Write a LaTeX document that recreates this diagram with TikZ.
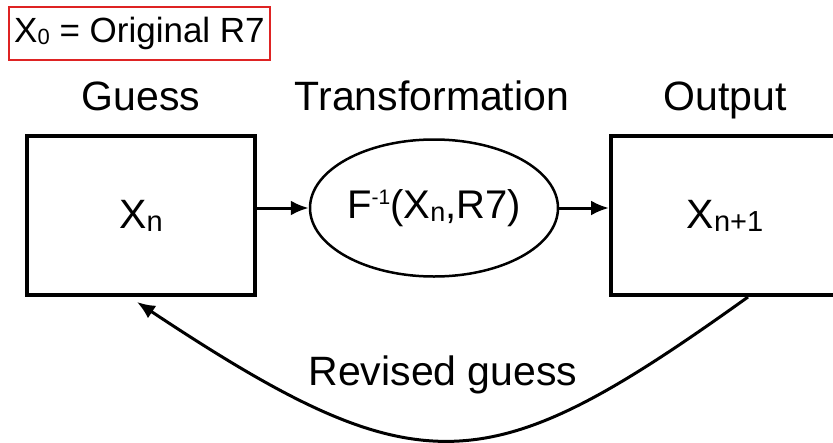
\documentclass[tikz,border=0pt]{standalone}
\usepackage{fontspec}
\setmainfont{Liberation Sans}
\usetikzlibrary{shapes.geometric,arrows.meta,calc}
\definecolor{frame}{RGB}{222,35,35}
\newcommand{\lowsc}[3]{\raisebox{-#1pt}{\fontsize{#2}{#2}\selectfont #3}}
\begin{document}
\begin{tikzpicture}[x=1pt,y=-1pt,
  box/.style={draw,line width=4pt,minimum width=228pt,minimum height=159pt,inner sep=0pt,font=\fontsize{41}{41}\selectfont},
  lbl/.style={font=\fontsize{41}{41}\selectfont,anchor=base,inner sep=0pt},
  conn/.style={line width=3pt,-{Latex[length=18pt,width=15pt]}}]
\useasboundingbox (0,0) rectangle (833,442);
\node[draw=frame,line width=2pt,minimum width=261pt,minimum height=53pt,inner sep=0pt,font=\fontsize{35}{35}\selectfont] (init) at (139.5,33.5) {X\lowsc{2}{22}{0} = Original R7};
\node[lbl] (tg) at (141,110) {Guess};
\node[lbl] (tt) at (432,110) {Transformation};
\node[lbl] (to) at (725,110) {Output};
\node[box] (L) at (141,215.5) {X\lowsc{3}{29}{n}};
\node[box] (R) at (725,215.5) {X\lowsc{3}{29}{n+1}};
\node[draw,ellipse,line width=2.5pt,minimum width=248pt,minimum height=137pt,inner sep=0pt,font=\fontsize{40}{40}\selectfont] (E) at (434,208) {F\raisebox{14pt}{\fontsize{21}{21}\selectfont -1}(X\lowsc{3}{27}{n},R7)};
\draw[conn] (L.east |- E.west) -- (E.west);
\draw[conn] (E.east) -- (R.west |- E.east);
\coordinate (cs) at ($(R.south west)+(139,0)$);
\coordinate (ce) at ($(L.south west)+(112,5)$);
\draw[conn] (cs) .. controls (488,483) and (422,491) .. (ce);
\node[lbl] (rg) at (443,385) {Revised guess};
\end{tikzpicture}
\end{document}
